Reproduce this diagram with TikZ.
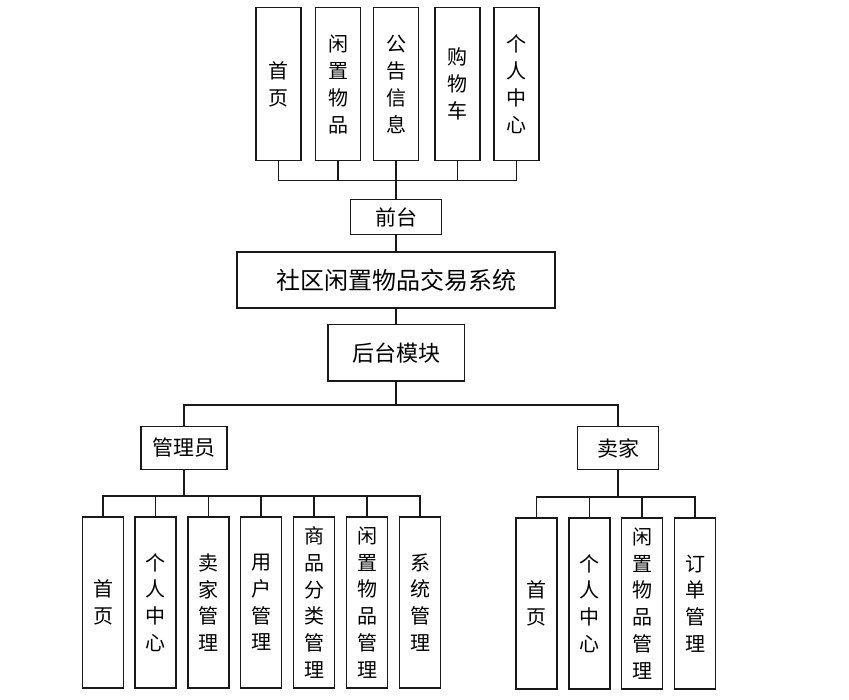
\documentclass[tikz,border=0pt]{standalone}
\usepackage{fontspec}
\newfontfamily\cjk{Noto Sans CJK SC}
\begin{document}
\begin{tikzpicture}[x=1pt,y=-1pt,
  box/.style={draw=black!90, line width=1.5pt, fill=white, inner sep=0pt, align=center},
  vbox/.style={box, minimum width=45pt, minimum height=153pt, font=\cjk\fontsize{20}{27}\selectfont},
  lbox/.style={box, minimum width=41pt, minimum height=171pt, font=\cjk\fontsize{20}{26.8}\selectfont},
  conn/.style={draw=black!90, line width=1.5pt}]
\useasboundingbox (0,0) rectangle (849,700);
% top row
\node[vbox] (t1) at (278.5,84) {首\\页};
\node[vbox] (t2) at (338,84) {闲\\置\\物\\品};
\node[vbox] (t3) at (396,84) {公\\告\\信\\息};
\node[vbox] (t4) at (457.5,84) {购\\物\\车};
\node[vbox] (t5) at (516.5,84) {个\\人\\中\\心};
\node[box, minimum width=91pt, minimum height=35pt, font=\cjk\fontsize{21}{25}\selectfont] (qt) at (396,217) {前台};
\node[box, minimum width=318pt, minimum height=56pt, font=\cjk\fontsize{24}{28}\selectfont] (main) at (396,280) {社区闲置物品交易系统};
\node[box, minimum width=136.5pt, minimum height=56.5pt, font=\cjk\fontsize{22}{26}\selectfont] (ht) at (396,352.75) {后台模块};
\node[box, minimum width=86pt, minimum height=43pt, font=\cjk\fontsize{21}{25}\selectfont] (gly) at (184,448) {管理员};
\node[box, minimum width=81pt, minimum height=43pt, font=\cjk\fontsize{21}{25}\selectfont] (mj) at (618,448) {卖家};
% admin row
\node[lbox] (a1) at (103,602.5) {首\\页};
\node[lbox] (a2) at (155.7,602.5) {个\\人\\中\\心};
\node[lbox] (a3) at (208.5,602.5) {卖\\家\\管\\理};
\node[lbox] (a4) at (261.2,602.5) {用\\户\\管\\理};
\node[lbox] (a5) at (314.2,602.5) {商\\品\\分\\类\\管\\理};
\node[lbox] (a6) at (367,602.5) {闲\\置\\物\\品\\管\\理};
\node[lbox] (a7) at (420,602.5) {系\\统\\管\\理};
% seller row
\node[lbox] (s1) at (536.5,603.5) {首\\页};
\node[lbox] (s2) at (589.5,603.5) {个\\人\\中\\心};
\node[lbox] (s3) at (642.2,603.5) {闲\\置\\物\\品\\管\\理};
\node[lbox] (s4) at (695.2,603.5) {订\\单\\管\\理};
% buses
\coordinate (fb) at (396,180.5);
\coordinate (hb) at (396,405);
\coordinate (lb) at (184,496);
\coordinate (rb) at (618,497);
% connectors
\foreach \n in {t1,t2,t4,t5} \draw[conn] (\n.south) |- (fb);
\draw[conn] (t3.south) -- (qt.north);
\draw[conn] (qt.south) -- (main.north);
\draw[conn] (main.south) -- (ht.north);
\draw[conn] (ht.south) -- (hb);
\draw[conn] (gly.north) |- (hb);
\draw[conn] (mj.north) |- (hb);
\draw[conn] (gly.south) -- (lb);
\foreach \n in {a1,a2,a3,a4,a5,a6,a7} \draw[conn] (\n.north) |- (lb);
\draw[conn] (mj.south) -- (rb);
\foreach \n in {s1,s2,s3,s4} \draw[conn] (\n.north) |- (rb);
\end{tikzpicture}
\end{document}
